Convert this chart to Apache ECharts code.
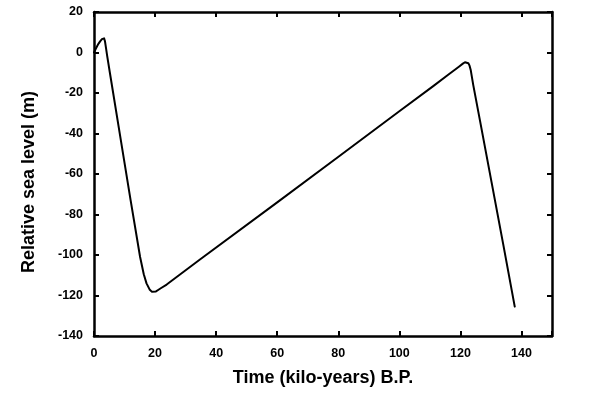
<!DOCTYPE html>
<html>
<head>
<meta charset="utf-8">
<script src="https://cdn.jsdelivr.net/npm/echarts@6/dist/echarts.min.js"></script>
<style>html,body{margin:0;padding:0;background:#fff}#c{width:600px;height:393px}</style>
</head>
<body>
<div id="c"></div>
<script>
var timeKyr = [0, 0.5, 1, 1.5, 2, 2.6, 3.0, 3.3, 3.6, 3.9, 4.3, 5.2, 8, 12, 15.1, 16.3, 17.2, 18.2, 19.0, 19.6, 20.3, 21, 22, 23.8, 34.7, 60, 80.5, 100, 111.1, 116, 119.5, 120.8, 121.5, 122.1, 122.6, 123.0, 123.4, 124.2, 126.4, 130.2, 134, 137.8];
var seaLevel = [0, 1.6, 3.1, 4.4, 5.5, 6.6, 7.2, 7.0, 5.5, 2.5, -1.5, -10, -36, -73, -101, -109.5, -114, -117, -118.2, -118.4, -118, -117.3, -116.3, -114.6, -102.2, -74, -51, -29, -16.6, -11, -7, -5.5, -4.8, -4.7, -5.3, -6.5, -8.8, -16, -33.5, -64, -94.5, -125.5];
var xTicks = {min: 0, max: 150, interval: 20};
var yTicks = {min: -140, max: 20, interval: 20};
var xTitle = 'Time (kilo-years) B.P.';
var yTitle = 'Relative sea level (m)';

var font = 'Liberation Sans, Arial, sans-serif';
var pts = timeKyr.map(function (t, i) { return [t, seaLevel[i]]; });
var lineStyle = {color: '#000', width: 2.5};
var chart = echarts.init(document.getElementById('c'));
chart.setOption({
  animation: false,
  grid: {left: 94, right: 48, top: 12, bottom: 57},
  xAxis: [{
    type: 'value', min: xTicks.min, max: xTicks.max, interval: xTicks.interval,
    position: 'bottom',
    name: xTitle, nameLocation: 'middle', nameGap: 33,
    nameTextStyle: {fontFamily: font, fontWeight: 'bold', fontSize: 18, color: '#000'},
    axisLine: {show: true, onZero: false, lineStyle: lineStyle},
    axisTick: {show: true, inside: true, length: 5, lineStyle: {color: '#000', width: 2}},
    axisLabel: {fontFamily: font, fontWeight: 'bold', fontSize: 12.5, color: '#000', margin: 11,
      formatter: function (v) { return v > 140 ? '' : String(v); }},
    splitLine: {show: false}
  }, {
    type: 'value', min: xTicks.min, max: xTicks.max, interval: xTicks.interval,
    position: 'top',
    axisLine: {show: true, onZero: false, lineStyle: lineStyle},
    axisTick: {show: true, inside: true, length: 5, lineStyle: {color: '#000', width: 2}},
    axisLabel: {show: false},
    splitLine: {show: false}
  }],
  yAxis: [{
    type: 'value', min: yTicks.min, max: yTicks.max, interval: yTicks.interval,
    position: 'left',
    name: yTitle, nameLocation: 'middle', nameGap: 56, nameRotate: 90,
    nameTextStyle: {fontFamily: font, fontWeight: 'bold', fontSize: 18, color: '#000', padding: [0, 16, 0, 0]},
    axisLine: {show: true, onZero: false, lineStyle: lineStyle},
    axisTick: {show: true, inside: true, length: 5, lineStyle: {color: '#000', width: 2}},
    axisLabel: {fontFamily: font, fontWeight: 'bold', fontSize: 12.5, color: '#000', margin: 11},
    splitLine: {show: false}
  }, {
    type: 'value', min: yTicks.min, max: yTicks.max, interval: yTicks.interval,
    position: 'right',
    axisLine: {show: true, onZero: false, lineStyle: lineStyle},
    axisTick: {show: true, inside: true, length: 5, lineStyle: {color: '#000', width: 2}},
    axisLabel: {show: false},
    splitLine: {show: false}
  }],
  series: [{
    type: 'line', xAxisIndex: 0, yAxisIndex: 0,
    data: pts, smooth: false, showSymbol: false,
    lineStyle: {color: '#000', width: 2, join: 'round', cap: 'round'}
  }]
});
</script>
</body>
</html>
